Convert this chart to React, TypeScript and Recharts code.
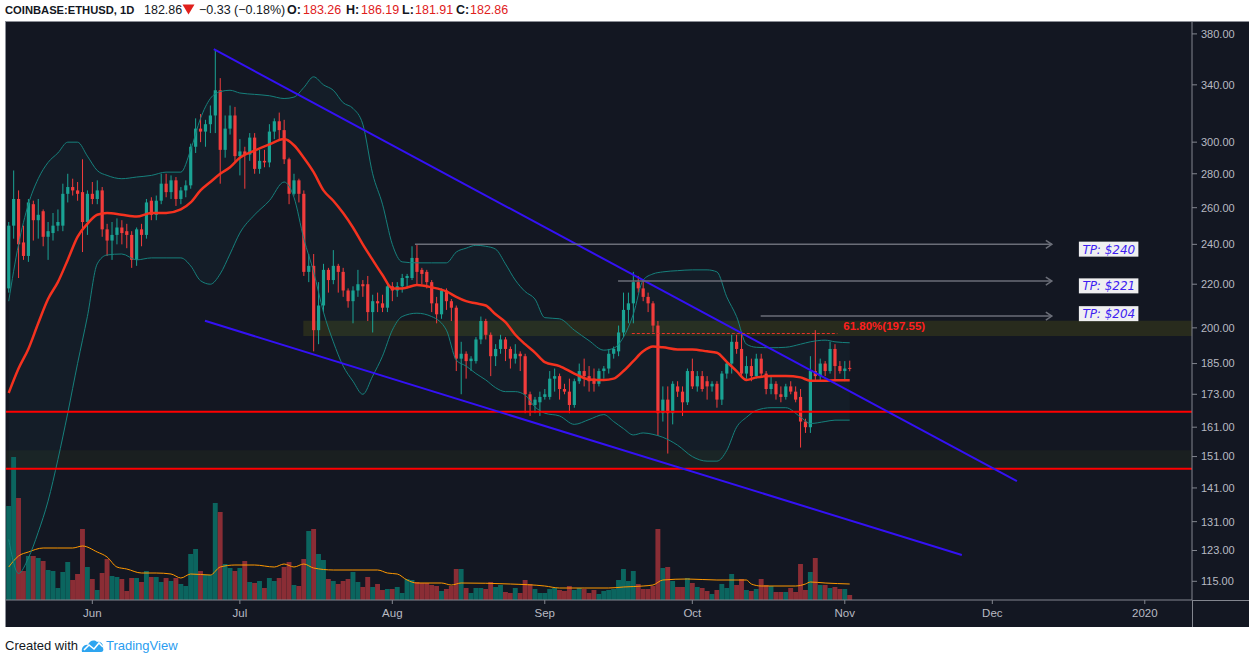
import React from "react";
import {
  ComposedChart,
  Bar,
  Line,
  Area,
  XAxis,
  YAxis,
  ReferenceLine,
  ReferenceArea,
  ReferenceDot,
} from "recharts";

// daily candles, 15 May 2019 -> 2 Nov 2019: [open, high, low, close]
const candles: number[][] = [
  [218, 252, 216, 250], [250, 282, 243, 265], [265, 270, 223, 240], [241, 250, 232, 234],
  [234, 265, 231, 263], [262, 264, 242, 253], [253, 265, 243, 256], [258, 259, 239, 244],
  [244, 252, 232, 247], [246, 257, 242, 250], [250, 259, 247, 252], [250, 274, 247, 268],
  [268, 280, 263, 272], [272, 277, 267, 270], [270, 275, 264, 268], [269, 289, 236, 252],
  [252, 270, 245, 268], [268, 275, 262, 265], [265, 276, 262, 270], [270, 272, 244, 248],
  [248, 251, 234, 242], [242, 252, 232, 245], [245, 254, 240, 249], [249, 253, 240, 246],
  [247, 251, 238, 245], [245, 247, 228, 232], [232, 249, 229, 248], [248, 251, 239, 245],
  [245, 265, 243, 263], [264, 266, 253, 256], [256, 267, 253, 264], [264, 280, 262, 274],
  [274, 280, 266, 269], [269, 279, 265, 276], [276, 278, 261, 265], [265, 272, 262, 270],
  [270, 276, 266, 273], [273, 299, 271, 297], [297, 316, 293, 309], [309, 319, 300, 307],
  [307, 315, 297, 312], [312, 325, 306, 318], [318, 367, 306, 336], [336, 345, 274, 295],
  [295, 318, 290, 309], [309, 325, 305, 318], [318, 324, 287, 291], [291, 302, 279, 294],
  [294, 297, 271, 292], [292, 306, 288, 303], [303, 306, 280, 283], [283, 295, 280, 288],
  [288, 295, 284, 287], [287, 312, 284, 307], [307, 316, 302, 314], [314, 320, 301, 308],
  [308, 315, 286, 289], [289, 290, 262, 268], [268, 280, 267, 276], [276, 277, 263, 268],
  [268, 270, 224, 226], [226, 235, 221, 229], [229, 235, 190, 199], [199, 221, 193, 210],
  [210, 230, 207, 227], [227, 228, 216, 222], [222, 237, 220, 229], [229, 230, 216, 226],
  [226, 228, 214, 217], [217, 218, 209, 212], [212, 219, 202, 217], [217, 227, 214, 220],
  [220, 222, 214, 219], [220, 224, 203, 207], [207, 215, 198, 212], [212, 216, 207, 211],
  [211, 215, 207, 209], [209, 220, 207, 219], [219, 221, 212, 217], [217, 221, 214, 219],
  [219, 225, 216, 223], [223, 225, 218, 224], [223, 239, 222, 233], [233, 240, 220, 226],
  [227, 228, 220, 225], [226, 227, 218, 221], [221, 222, 207, 211], [211, 214, 202, 206],
  [206, 218, 204, 217], [217, 218, 208, 212], [212, 213, 203, 209], [209, 210, 182, 187],
  [187, 194, 173, 189], [189, 190, 179, 186], [186, 188, 182, 187], [186, 196, 185, 195],
  [195, 205, 193, 203], [203, 204, 195, 197], [197, 198, 180, 188], [188, 193, 184, 191],
  [191, 197, 189, 195], [195, 196, 186, 191], [191, 192, 183, 187], [187, 193, 185, 189],
  [189, 190, 182, 188], [188, 189, 166, 173], [173, 174, 165, 169], [169, 172, 166, 171],
  [170, 174, 165, 172], [172, 175, 171, 173], [172, 182, 171, 179], [179, 183, 174, 180],
  [180, 181, 171, 175], [175, 177, 173, 174], [174, 179, 166, 169], [169, 179, 168, 178],
  [178, 185, 177, 182], [182, 187, 176, 180], [180, 184, 174, 178], [179, 183, 174, 177],
  [177, 183, 176, 182], [182, 184, 179, 183], [183, 191, 181, 189], [189, 192, 187, 191],
  [190, 201, 188, 198], [198, 216, 196, 208], [208, 216, 202, 211], [211, 226, 202, 221],
  [221, 224, 216, 218], [218, 222, 212, 214], [214, 216, 207, 211], [211, 212, 198, 201],
  [201, 203, 158, 166], [166, 176, 163, 171], [171, 176, 152, 166], [166, 178, 162, 177],
  [176, 178, 172, 174], [174, 176, 165, 170], [170, 183, 169, 182], [182, 187, 175, 176],
  [176, 182, 174, 180], [180, 182, 174, 175], [178, 180, 171, 176], [176, 178, 174, 177],
  [177, 178, 168, 171], [171, 182, 169, 181], [181, 186, 179, 185], [185, 197, 181, 194],
  [194, 197, 189, 191], [191, 198, 180, 181], [181, 188, 179, 184], [184, 187, 178, 180],
  [180, 189, 179, 187], [187, 189, 180, 181], [181, 182, 173, 175], [175, 180, 173, 177],
  [177, 178, 171, 173], [173, 176, 170, 172], [172, 177, 171, 176], [176, 178, 173, 174],
  [174, 176, 170, 171], [172, 175, 154, 163], [163, 164, 159, 161], [161, 188, 159, 182],
  [182, 199, 178, 180], [180, 187, 178, 185], [185, 186, 180, 182], [182, 194, 181, 191],
  [191, 193, 178, 184], [184, 186, 181, 182], [182, 186, 178, 183], [183.26, 186.19, 181.91, 182.86],
];

// daily volume, thousands of ETH
const volumes = [
  470, 715, 510, 145, 220, 220, 210, 195, 150, 145, 60, 140, 190, 100, 130, 355, 165, 105, 50, 135,
  205, 120, 115, 105, 45, 110, 110, 90, 145, 115, 115, 90, 110, 95, 110, 80, 70, 230, 255, 145,
  125, 125, 485, 440, 180, 160, 145, 160, 195, 90, 85, 95, 60, 110, 95, 110, 165, 190, 75, 70,
  205, 345, 355, 230, 200, 105, 95, 80, 95, 105, 140, 90, 65, 115, 65, 80, 50, 55, 55, 65,
  35, 105, 100, 90, 85, 85, 75, 70, 45, 55, 70, 155, 155, 60, 35, 60, 60, 55, 90, 65,
  75, 40, 35, 60, 35, 100, 80, 55, 35, 35, 55, 60, 50, 45, 70, 50, 60, 55, 35, 50,
  30, 45, 50, 55, 100, 155, 95, 145, 80, 55, 55, 70, 355, 160, 165, 95, 65, 65, 110, 85,
  65, 60, 45, 30, 50, 80, 60, 130, 75, 105, 50, 45, 55, 105, 75, 70, 40, 40, 40, 60,
  40, 180, 50, 140, 210, 75, 75, 60, 65, 55, 55, 25,
];

// Bollinger bands (20, 2) at these bar indices
const bandIdx = [
  0, 2, 4, 6, 8, 10, 12, 14, 16, 18, 20, 23, 26, 29, 32, 35, 37, 39, 41, 43, 45, 47, 50, 53, 56,
  58, 60, 62, 64, 66, 68, 70, 72, 74, 76, 78, 80, 83, 86, 89, 91, 93, 95, 97, 99, 101, 103, 105,
  107, 109, 112, 115, 118, 121, 123, 125, 127, 129, 131, 133, 136, 139, 142, 144, 146, 148, 150,
  152, 155, 158, 161, 163, 166, 168, 171,
];
const bandUpper = [
  212, 240, 262, 277, 287, 293, 300, 300, 291, 282, 279, 277, 278, 279, 281, 281, 295, 316, 330,
  335, 336, 334, 333, 332, 330, 331, 338, 346, 340, 336, 327, 323, 312, 280, 262, 240, 231, 230.5,
  230.5, 230.5, 236, 238, 239.5, 239, 237.5, 230, 222, 216.5, 213, 204.5, 204, 199, 194.5, 190.5,
  191.3, 196, 206, 222, 225, 226, 226.6, 227, 227, 226, 214, 205, 193, 191.7, 191.5, 191.7, 193,
  194, 194.7, 194, 193.6,
];
const bandBasis = [
  173.5, 183, 191, 202, 213, 221, 232, 244, 251, 256, 257, 256, 255, 257, 257, 259, 263, 270, 275,
  280, 284, 290, 294.5, 298.5, 302, 298, 290, 281, 270, 264, 257, 249, 240, 232, 224.5, 218, 218,
  219.6, 218.5, 216.6, 214, 212, 211, 210, 206, 202.5, 197, 193, 189.5, 185.6, 184, 181, 178.7,
  178.5, 179, 182, 186, 190, 192, 191.7, 190.8, 190.8, 190, 189.4, 185.7, 182, 178.5, 179.5, 180,
  180, 179.5, 178.2, 178.2, 178.4, 178.4,
];
const bandLower = [
  126, 117, 121, 128, 137, 150, 166, 185, 205, 230, 234.5, 235, 232, 233, 233, 233, 229, 221.7,
  220, 225, 235, 246, 256, 264, 275, 266, 243, 226, 207, 194, 184, 178, 173, 180, 188, 199, 205,
  206.5, 205, 199, 186.4, 184, 181, 178.5, 175.5, 174, 174, 172.7, 168.3, 166, 165, 162, 163.7,
  165.5, 163, 160.5, 158.3, 159, 158.5, 157.5, 154.8, 151, 149.5, 149.5, 153, 161, 164.5, 167,
  168, 168, 164.6, 162.3, 163, 163.5, 163.5,
];

// volume moving average, read at these bar indices
const volMaIdx = [
  0, 2, 4, 7, 10, 13, 15, 18, 20, 22, 24, 27, 30, 33, 35, 37, 41, 43, 46, 50, 54, 56, 58, 60, 62,
  66, 70, 75, 77, 79, 81, 83, 88, 90, 92, 102, 109, 112, 117, 122, 125, 129, 131, 133, 138, 144,
  150, 151, 153, 160, 162, 163, 166, 171,
];
const volMa = [
  165, 220, 240, 260, 260, 260, 270, 240, 215, 165, 155, 135, 135, 130, 110, 130, 125, 165, 175,
  175, 165, 180, 165, 180, 160, 150, 150, 150, 135, 130, 100, 85, 85, 75, 85, 80, 70, 60, 60, 60,
  65, 70, 75, 100, 105, 100, 100, 80, 70, 70, 80, 90, 85, 80,
];

const monthTicks = [17, 47, 78, 109, 139, 170, 200, 231];
const monthLabels = ["Jun", "Jul", "Aug", "Sep", "Oct", "Nov", "Dec", "2020"];
const priceTicks = [115, 123, 131, 141, 151, 161, 173, 185, 200, 220, 240, 260, 280, 300, 340, 380];

const tpTargets = [240, 221, 204];
const fibLevel = 197.55;
const supportLevels = [166.5, 147];

const UP = "#1aa394";
const DOWN = "#f23c3c";
const VOL_UP = "#0b655f";
const VOL_DOWN = "#8a2d35";
const BAND = "#16807c";
const BASIS = "#f5321f";
const TREND = "#3411f5";
const ARROW = "#6b6e78";
const AXIS_TEXT = "#b8bac2";
const AXIS_LINE = "#83868f";

const rows: any[] = candles.map(([o, h, l, c], i) => ({ i, o, h, l, c, v: volumes[i] }));
bandIdx.forEach((idx, k) => {
  rows[idx].bu = bandUpper[k];
  rows[idx].bm = bandBasis[k];
  rows[idx].bl = bandLower[k];
  rows[idx].band = [bandLower[k], bandUpper[k]];
});
volMaIdx.forEach((idx, k) => {
  rows[idx].vma = volMa[k];
});

const X_DOMAIN = [-0.55, 240.6];

const Candle = (props: any) => {
  const { x, y, width, height, payload } = props;
  if (!payload || !Number.isFinite(y)) return null;
  const top = Math.min(y, y + height);
  const span = Math.abs(height);
  const { o, h, l, c } = payload;
  const lh = Math.log(h);
  const range = lh - Math.log(l) || 1;
  const py = (p: number) => top + (span * (lh - Math.log(p))) / range;
  const color = c >= o ? UP : DOWN;
  const cx = x + width / 2;
  const bTop = py(Math.max(o, c));
  const bH = Math.max(1, py(Math.min(o, c)) - bTop);
  return (
    <g>
      <line x1={cx} x2={cx} y1={top} y2={top + span} stroke={color} strokeWidth={1} />
      <rect x={cx - 1.6} y={bTop} width={3.2} height={bH} fill={color} />
    </g>
  );
};

const VolumeBar = (props: any) => {
  const { x, y, width, height, payload } = props;
  if (!payload || !Number.isFinite(y)) return null;
  return (
    <rect
      x={x}
      y={y}
      width={width}
      height={Math.max(0, height)}
      fill={payload.c >= payload.o ? VOL_UP : VOL_DOWN}
    />
  );
};

const ArrowLine = (p: any) => {
  const { x1, y1, x2, y2 } = p;
  if (![x1, y1, x2, y2].every((n) => Number.isFinite(n))) return null;
  return (
    <g>
      <line x1={x1} y1={y1} x2={x2} y2={y2} stroke={ARROW} strokeWidth={1.5} />
      <polyline
        points={`${x2 - 6},${y2 - 4} ${x2},${y2} ${x2 - 6},${y2 + 4}`}
        fill="none"
        stroke={ARROW}
        strokeWidth={1.5}
      />
    </g>
  );
};

const tpLabel = (value: number) => (p: any) => (
  <g>
    <rect x={p.cx - 30} y={p.cy - 7.5} width={59.5} height={15} fill="#efeff1" />
    <text
      x={p.cx}
      y={p.cy + 4.5}
      textAnchor="middle"
      fontFamily="DejaVu Sans"
      fontStyle="italic"
      fontSize={12}
      fill="#3d1df2"
    >
      {`TP: $${value}`}
    </text>
  </g>
);

const fibLabel = (p: any) => (
  <text
    x={p.cx}
    y={p.cy - 3.5}
    fontFamily="Liberation Sans, Arial"
    fontSize={11.5}
    fontWeight="bold"
    fill="#ff1f1f"
  >
    {`61.80%(${fibLevel})`}
  </text>
);

const red = "#e0201c";
const headFont = "Liberation Sans, Arial, sans-serif";

// header pieces: text, left edge, font size, bold, red
const headerParts: [string, number, number, boolean, boolean][] = [
  ["COINBASE:ETHUSD, 1D", 5, 11.2, true, false],
  ["182.86", 144, 12.5, false, false],
  ["−0.33 (−0.18%)", 199, 12.5, false, false],
  ["O:", 287, 12.5, true, false],
  ["183.26", 303, 12.5, false, true],
  ["H:", 346, 12.5, true, false],
  ["186.19", 361, 12.5, false, true],
  ["L:", 402, 12.5, true, false],
  ["181.91", 415, 12.5, false, true],
  ["C:", 456, 12.5, true, false],
  ["182.86", 470, 12.5, false, true],
];

export default function App() {
  return (
    <div
      style={{
        position: "absolute",
        left: 0,
        top: 0,
        width: 1249,
        height: 660,
        background: "#ffffff",
        overflow: "hidden",
      }}
    >
      {headerParts.map(([t, left, size, bold, isRed], k) => (
        <span
          key={k}
          style={{
            position: "absolute",
            left,
            top: 2,
            lineHeight: "16px",
            whiteSpace: "nowrap",
            fontFamily: headFont,
            fontSize: size,
            fontWeight: bold ? "bold" : "normal",
            color: isRed ? red : "#131722",
          }}
        >
          {t}
        </span>
      ))}
      <svg width={13} height={11} style={{ position: "absolute", left: 182, top: 4 }}>
        <polygon points="0.5,0.5 12.5,0.5 6.5,10.5" fill={red} />
      </svg>

      <div
        style={{
          position: "absolute",
          left: 5,
          top: 21,
          width: 1244,
          height: 606,
          background: "#131722",
          borderLeft: "1px solid #8c8f97",
          borderTop: "1px solid #8c8f97",
          boxSizing: "border-box",
        }}
      />
      <div style={{ position: "absolute", left: 1192, top: 600, width: 1, height: 27, background: AXIS_LINE }} />
      <div style={{ position: "absolute", left: 1192, top: 600, width: 57, height: 1, background: AXIS_LINE }} />

      <div style={{ position: "absolute", left: 6, top: 22 }}>
        <ComposedChart width={1243} height={605} data={rows} margin={{ top: 0, right: 0, bottom: 0, left: 0 }}>
          <XAxis
            xAxisId="p"
            dataKey="i"
            type="number"
            domain={X_DOMAIN}
            allowDataOverflow
            ticks={monthTicks}
            interval={0}
            tickFormatter={(v: number) => monthLabels[monthTicks.indexOf(v)] ?? ""}
            height={27}
            tickSize={4}
            tickMargin={5}
            tick={{ fill: AXIS_TEXT, fontSize: 11.5, fontFamily: "Liberation Sans, Arial" }}
            tickLine={{ stroke: AXIS_LINE }}
            axisLine={{ stroke: AXIS_LINE }}
          />
          <XAxis xAxisId="v" dataKey="i" type="number" domain={X_DOMAIN} allowDataOverflow hide />
          <YAxis
            yAxisId="p"
            orientation="right"
            type="number"
            scale="log"
            domain={[110.4, 390]}
            allowDataOverflow
            ticks={priceTicks}
            interval={0}
            tickFormatter={(v: number) => v.toFixed(2)}
            width={57}
            tickSize={5}
            tickMargin={4}
            tick={{ fill: AXIS_TEXT, fontSize: 11, fontFamily: "Liberation Sans, Arial" }}
            tickLine={{ stroke: AXIS_LINE }}
            axisLine={{ stroke: AXIS_LINE }}
          />
          <YAxis yAxisId="v" type="number" domain={[0, 2890]} allowDataOverflow hide />

          <ReferenceArea
            xAxisId="p"
            yAxisId="p"
            x1={X_DOMAIN[0]}
            x2={X_DOMAIN[1]}
            y1={147.3}
            y2={153.1}
            fill="rgba(130,140,20,0.14)"
            stroke="none"
            ifOverflow="visible"
          />
          <ReferenceArea
            xAxisId="p"
            yAxisId="p"
            x1={59.9}
            x2={X_DOMAIN[1]}
            y1={196.5}
            y2={203.1}
            fill="rgba(175,175,0,0.27)"
            stroke="none"
            ifOverflow="visible"
          />

          <Bar
            xAxisId="v"
            yAxisId="v"
            dataKey="v"
            barSize={4.9}
            shape={VolumeBar}
            isAnimationActive={false}
          />
          <Line
            xAxisId="v"
            yAxisId="v"
            dataKey="vma"
            type="monotone"
            stroke="#ff9800"
            strokeWidth={1}
            dot={false}
            connectNulls
            isAnimationActive={false}
          />

          <Area
            xAxisId="p"
            yAxisId="p"
            dataKey="band"
            type="monotone"
            stroke="none"
            fill="#26a69a"
            fillOpacity={0.05}
            connectNulls
            isAnimationActive={false}
          />
          <Line xAxisId="p" yAxisId="p" dataKey="bu" type="monotone" stroke={BAND} strokeWidth={1} dot={false} connectNulls isAnimationActive={false} />
          <Line xAxisId="p" yAxisId="p" dataKey="bl" type="monotone" stroke={BAND} strokeWidth={1} dot={false} connectNulls isAnimationActive={false} />
          <Line xAxisId="p" yAxisId="p" dataKey="bm" type="monotone" stroke={BASIS} strokeWidth={2.5} dot={false} connectNulls isAnimationActive={false} />

          <Bar
            xAxisId="p"
            yAxisId="p"
            dataKey={(d: any) => [d.l, d.h]}
            barSize={3}
            shape={Candle}
            isAnimationActive={false}
          />

          {supportLevels.map((lv) => (
            <ReferenceLine key={lv} xAxisId="p" yAxisId="p" y={lv} stroke="#ff0000" strokeWidth={2} />
          ))}

          <ReferenceLine
            xAxisId="p"
            yAxisId="p"
            segment={[{ x: 41.7, y: 367.5 }, { x: 205, y: 143.1 }]}
            stroke={TREND}
            strokeWidth={2}
            ifOverflow="visible"
          />
          <ReferenceLine
            xAxisId="p"
            yAxisId="p"
            segment={[{ x: 39.9, y: 203.1 }, { x: 193.8, y: 121.8 }]}
            stroke={TREND}
            strokeWidth={2}
            ifOverflow="visible"
          />

          <ReferenceLine
            xAxisId="p"
            yAxisId="p"
            segment={[{ x: 82.6, y: tpTargets[0] }, { x: 212.1, y: tpTargets[0] }]}
            shape={ArrowLine}
            ifOverflow="visible"
          />
          <ReferenceLine
            xAxisId="p"
            yAxisId="p"
            segment={[{ x: 123.9, y: 221.5 }, { x: 212.1, y: 221.5 }]}
            shape={ArrowLine}
            ifOverflow="visible"
          />
          <ReferenceLine
            xAxisId="p"
            yAxisId="p"
            segment={[{ x: 152.9, y: 205.2 }, { x: 212.1, y: 205.2 }]}
            shape={ArrowLine}
            ifOverflow="visible"
          />

          <ReferenceLine
            xAxisId="p"
            yAxisId="p"
            segment={[{ x: 126.7, y: fibLevel }, { x: 168.5, y: fibLevel }]}
            stroke="#e8302a"
            strokeWidth={1}
            strokeDasharray="3 2"
            ifOverflow="visible"
          />
          <ReferenceDot xAxisId="p" yAxisId="p" x={169.7} y={fibLevel} r={1} shape={fibLabel} ifOverflow="visible" />

          <ReferenceDot xAxisId="p" yAxisId="p" x={223.7} y={237.5} r={1} shape={tpLabel(tpTargets[0])} ifOverflow="visible" />
          <ReferenceDot xAxisId="p" yAxisId="p" x={223.7} y={219.2} r={1} shape={tpLabel(tpTargets[1])} ifOverflow="visible" />
          <ReferenceDot xAxisId="p" yAxisId="p" x={223.7} y={206.3} r={1} shape={tpLabel(tpTargets[2])} ifOverflow="visible" />
        </ComposedChart>
      </div>

      <div
        style={{
          position: "absolute",
          left: 5,
          top: 638,
          height: 16,
          lineHeight: "16px",
          fontFamily: "Liberation Sans, Arial, sans-serif",
          fontSize: 13,
          color: "#131722",
          whiteSpace: "nowrap",
          display: "flex",
          alignItems: "center",
        }}
      >
        <span>Created with</span>
        <svg width={24} height={16} style={{ marginLeft: 3, marginRight: 1 }}>
          <path d="M1,14 C0,9 4,6 7,7 C8,3 13,1 16,4 C19,3 23,6 22,10 C23,12 22,14 20,14 Z" fill="#2ea5f0" />
          <polyline points="3,12 8,7 13,11 18,5 22,9" fill="none" stroke="#ffffff" strokeWidth={1.6} />
        </svg>
        <span style={{ color: "#2a9df0" }}>TradingView</span>
      </div>
    </div>
  );
}
